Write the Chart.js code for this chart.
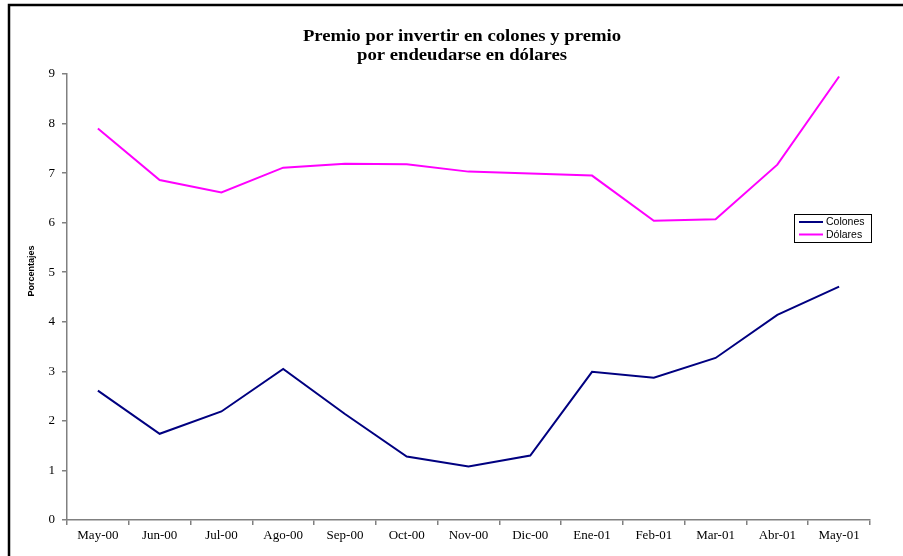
<!DOCTYPE html>
<html>
<head>
<meta charset="utf-8">
<script src="https://cdn.jsdelivr.net/npm/chart.js@4.4.0/dist/chart.umd.min.js"></script>
<style>
  html, body { margin: 0; padding: 0; background: #fff; }
  canvas { display: block; }
</style>
</head>
<body>
<canvas id="myChart" width="903" height="556"></canvas>
<script>
// meses del periodo
const meses = ['May-00', 'Jun-00', 'Jul-00', 'Ago-00', 'Sep-00', 'Oct-00', 'Nov-00',
               'Dic-00', 'Ene-01', 'Feb-01', 'Mar-01', 'Abr-01', 'May-01'];
// premio por invertir en colones (%)
const colones = [2.61, 1.74, 2.19, 3.05, 2.14, 1.28, 1.08, 1.30, 2.99, 2.87, 3.27, 4.14, 4.71];
// premio por endeudarse en dólares (%)
const dolares = [7.90, 6.86, 6.61, 7.11, 7.19, 7.18, 7.03, 6.99, 6.95, 6.04, 6.07, 7.17, 8.95];
const tituloLineas = ['Premio por invertir en colones y premio', 'por endeudarse en dólares'];
const ejeY = 'Porcentajes';

const gris = '#808080';

// titulo, marco, etiqueta del eje y leyenda
const extras = {
    id: 'extras',
    afterDraw(chart) {
        const ctx = chart.ctx;
        ctx.save();
        // marco
        ctx.strokeStyle = '#000';
        ctx.lineWidth = 2.5;
        ctx.beginPath();
        ctx.moveTo(9, 556);
        ctx.lineTo(9, 5);
        ctx.lineTo(903, 5);
        ctx.stroke();

        // titulo (un poco ensanchado)
        ctx.fillStyle = '#000';
        ctx.font = 'bold 17px "Liberation Serif"';
        ctx.textAlign = 'center';
        ctx.textBaseline = 'middle';
        ctx.translate(462, 0);
        ctx.scale(1.1, 1);
        ctx.fillText(tituloLineas[0], 0, 37);
        ctx.fillText(tituloLineas[1], 0, 56);
        ctx.setTransform(1, 0, 0, 1, 0, 0);

        // eje y
        ctx.font = 'bold 9px "Liberation Sans"';
        ctx.translate(32, 271);
        ctx.rotate(-Math.PI / 2);
        ctx.fillText(ejeY, 0, 0);
        ctx.setTransform(1, 0, 0, 1, 0, 0);

        // leyenda
        ctx.lineWidth = 1;
        ctx.strokeStyle = '#000';
        ctx.strokeRect(794.5, 214.5, 77, 28);
        ctx.font = '10.5px "Liberation Sans"';
        ctx.textAlign = 'left';
        chart.data.datasets.forEach((ds, i) => {
            const y = 222 + i * 12.5;
            ctx.strokeStyle = ds.borderColor;
            ctx.lineWidth = 2;
            ctx.beginPath();
            ctx.moveTo(799, y);
            ctx.lineTo(823, y);
            ctx.stroke();
            ctx.fillStyle = '#000';
            ctx.fillText(ds.label, 826, y + 0.5);
        });
        ctx.restore();
    }
};

const ctx = document.getElementById('myChart').getContext('2d');
const myChart = new Chart(ctx, {
    type: 'line',
    data: {
        labels: meses,
        datasets: [
            {
                label: 'Colones',
                data: colones,
                borderColor: '#000080',
                backgroundColor: '#000080',
                borderWidth: 2,
                pointRadius: 0,
                tension: 0,
                fill: false
            },
            {
                label: 'Dólares',
                data: dolares,
                borderColor: '#ff00ff',
                backgroundColor: '#ff00ff',
                borderWidth: 2,
                pointRadius: 0,
                tension: 0,
                fill: false
            }
        ]
    },
    options: {
        responsive: false,
        animation: false,
        devicePixelRatio: 1,
        layout: { padding: { left: 0, top: 74, right: 33, bottom: 0 } },
        plugins: {
            legend: { display: false },
            title: { display: false },
            tooltip: { enabled: false }
        },
        scales: {
            x: {
                offset: true,
                afterFit: (scale) => { scale.height = 36; },
                grid: {
                    offset: true,
                    drawOnChartArea: false,
                    drawTicks: true,
                    tickLength: 5,
                    color: gris,
                    lineWidth: 1.5
                },
                border: { display: true, color: gris, width: 1.5 },
                ticks: {
                    color: '#000',
                    font: { family: 'Liberation Serif', size: 13 },
                    maxRotation: 0,
                    autoSkip: false,
                    padding: 3
                }
            },
            y: {
                min: 0,
                max: 9,
                afterFit: (scale) => { scale.width = 67; },
                grid: {
                    drawOnChartArea: false,
                    drawTicks: true,
                    tickLength: 5,
                    color: gris,
                    lineWidth: 1.5
                },
                border: { display: true, color: gris, width: 1.5 },
                ticks: {
                    stepSize: 1,
                    color: '#000',
                    font: { family: 'Liberation Serif', size: 13 },
                    padding: 7
                }
            }
        }
    },
    plugins: [extras]
});
</script>
</body>
</html>
